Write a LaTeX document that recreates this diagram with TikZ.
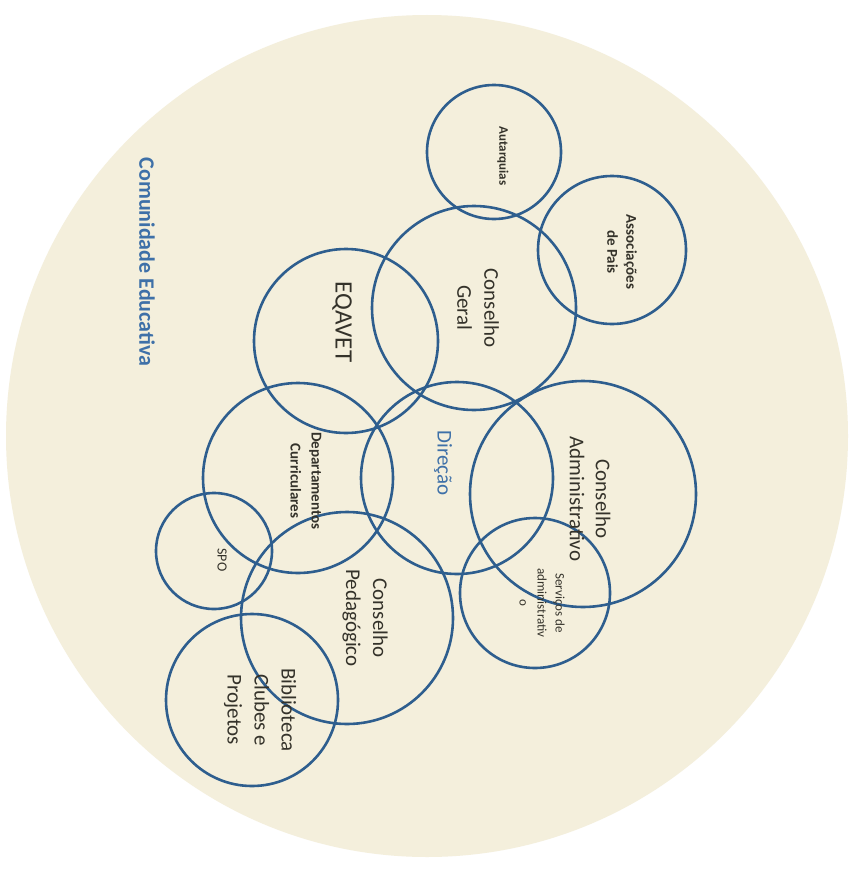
\documentclass[tikz,border=0pt]{standalone}
\usepackage{fontspec}
\setmainfont{Carlito}
\usetikzlibrary{positioning}
\definecolor{ringblue}{RGB}{46,94,142}
\definecolor{paper}{RGB}{244,239,220}
\definecolor{inkgray}{RGB}{52,50,42}
\definecolor{titleblue}{RGB}{62,112,168}
\tikzset{
  orb/.style={circle, draw=ringblue, line width=2.6pt, inner sep=0pt},
  lbl/.style={rotate=-90, align=center, text=inkgray, inner sep=0pt},
}
\newcommand{\bubble}[3]{%
  \node[orb, minimum size=#3] (#1) at #2 {};
}
\newcommand{\fs}[2]{\fontsize{#1}{#2}\selectfont}

\begin{document}
\begin{tikzpicture}[x=1pt, y=-1pt]
    \useasboundingbox (0,0) rectangle (858,875);
    \fill[white] (0,0) rectangle (858,875);
    \fill[paper] (427,436) circle (421);
    % circles
    \bubble{autarq}{(494,152)}{134pt}
    \bubble{assoc}{(612,250)}{148pt}
    \bubble{cgeral}{(474,308)}{204pt}
    \bubble{eqavet}{(346,341)}{184pt}
    \bubble{depto}{(298,478)}{190pt}
    \bubble{direcao}{(457,478)}{192pt}
    \bubble{cadmin}{(583,494)}{226pt}
    \bubble{servadm}{(535,593)}{150pt}
    \bubble{spo}{(214,551)}{116pt}
    \bubble{cpedag}{(347,618)}{212pt}
    \bubble{biblio}{(252,700)}{172pt}
    % labels
    \node[lbl, text=titleblue, font=\fs{22}{26}\bfseries] (comun) at (147,262) {Comunidade Educativa};
    \node[lbl, font=\fs{13}{16}\bfseries] (autarqt) at (503,156) {Autarquias};
    \node[lbl, font=\fs{15}{19}\bfseries] (assoct) at (622,252) {Associações\\de Pais};
    \node[lbl, font=\fs{21}{27}] (cgeralt) at (478,308) {Conselho\\Geral};
    \node[lbl, font=\fs{25}{30}] (eqavett) at (342,322) {EQAVET};
    \node[lbl, font=\fs{15}{21}\bfseries] (deptot) at (306,481) {Departamentos\\Curriculares};
    \node[lbl, text=titleblue, font=\fs{21}{26}] (direcaot) at (443,463) {Direção};
    \node[lbl, font=\fs{21}{26}] (cadmint) at (590,499) {Conselho\\Administrativo};
    \node[lbl, font=\fs{13}{18}] (servadmt) at (542,603) {Serviços de\\administrativ\\o};
    \node[lbl, font=\fs{14}{17}] (spot) at (222,560) {SPO};
    \node[lbl, font=\fs{21}{27}] (cpedagt) at (365,618) {Conselho\\Pedagógico};
    \node[lbl, font=\fs{21}{27}] (bibliot) at (260,710) {Biblioteca\\Clubes e\\Projetos};
  \end{tikzpicture}
\end{document}
